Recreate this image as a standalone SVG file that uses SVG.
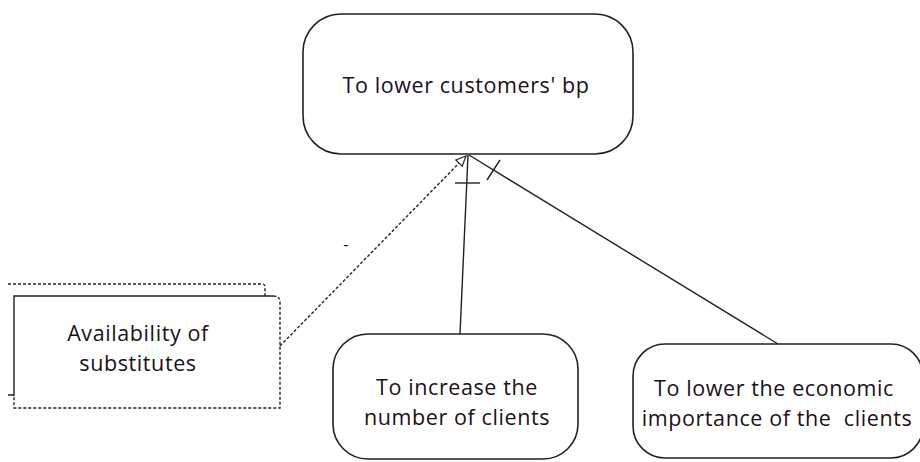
<svg xmlns="http://www.w3.org/2000/svg" width="920" height="462" viewBox="0 0 920 462">
<style>
.node{fill:#fff;stroke:#222;stroke-width:1.6}
.t{font-family:"Open Sans","Liberation Sans",sans-serif;font-size:21.5px;letter-spacing:0.6px;fill:#1a1020;text-anchor:middle}
.ln{fill:none;stroke:#222;stroke-width:1.4}
.dash{fill:none;stroke:#222;stroke-width:1.4;stroke-dasharray:3 2}
</style>
<defs>
<marker id="hollow" viewBox="0 0 12 12" refX="11" refY="6" markerWidth="12" markerHeight="12" markerUnits="userSpaceOnUse" orient="auto">
<path d="M1,1.5 L11,6 L1,10.5 Z" fill="#fff" stroke="#222" stroke-width="1.2"/>
</marker>
</defs>
<g id="top-node">
<rect class="node" x="303" y="14" width="330" height="140" rx="38"/>
<text class="t" x="466" y="93">To lower customers' bp</text>
</g>
<g id="substitutes">
<path class="dash" d="M8,284 H262 Q265,284 265,287 V296"/>
<path class="dash" d="M273,296 Q280,296 280,302 V408 H14 V396"/>
<path class="ln" d="M14,396 V296 H273 M8,395 H14"/>
<text class="t" x="138" y="341">Availability of</text>
<text class="t" x="138" y="371">substitutes</text>
</g>
<g id="increase-clients">
<rect class="node" x="333" y="334" width="245" height="125" rx="35"/>
<text class="t" x="457" y="395">To increase the</text>
<text class="t" x="457" y="425">number of clients</text>
</g>
<g id="lower-importance">
<rect class="node" x="633" y="344" width="290" height="114" rx="32"/>
<text class="t" x="774" y="396">To lower the economic</text>
<text class="t" x="777" y="426" xml:space="preserve">importance of the  clients</text>
</g>
<g id="connectors">
<line class="dash" x1="280" y1="346" x2="466" y2="156" marker-end="url(#hollow)"/>
<line class="ln" x1="460" y1="334" x2="468" y2="155"/>
<line class="ln" x1="455" y1="183" x2="480" y2="183"/>
<line class="ln" x1="778" y1="344" x2="469" y2="155"/>
<line class="ln" x1="487" y1="180" x2="500" y2="160"/>
<text class="t" x="346" y="250" style="font-size:16px">-</text>
</g>
</svg>
